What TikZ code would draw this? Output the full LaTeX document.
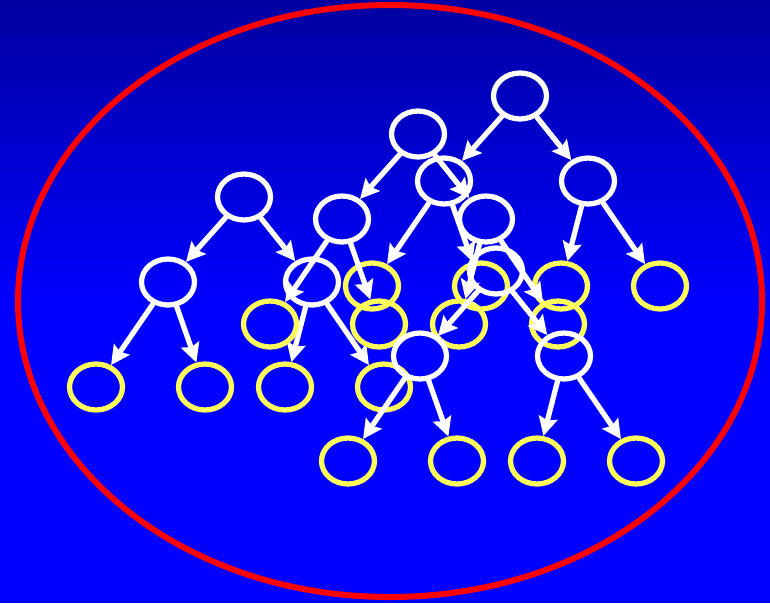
\documentclass[tikz,border=0pt]{standalone}
\usetikzlibrary{shapes.geometric,arrows.meta}
\definecolor{navy}{RGB}{0,0,160}
\definecolor{lemon}{RGB}{255,255,90}
\tikzset{
  knot/.style={ellipse, draw=white, line width=0.105cm, minimum width=1.06cm, minimum height=0.92cm, inner sep=0pt},
  leaf/.style={knot, draw=lemon},
  link/.style={draw=white, line width=0.105cm, -{Stealth[length=0.38cm, width=0.38cm, inset=0.06cm]}}
}
\begin{document}
\begin{tikzpicture}[x=0.02cm, y=-0.02cm, line cap=round, line join=round]
  \useasboundingbox (0,0) rectangle (770,603);
  % el fondo
  \shade[top color=navy, bottom color=blue] (0,0) rectangle (770,302);
  \fill[blue] (0,301) rectangle (770,603);
  \draw[red, line width=0.12cm] (390,301) ellipse (372 and 296);
  % los cuatro arboles
  \foreach \t/\x/\y in {1/244/197, 2/520/96, 3/418/134, 4/496/271} {
    \node[knot] (r\t) at (\x,\y) {};
    \node[knot] (a\t) at (\x-76,\y+85) {};
    \node[knot] (b\t) at (\x+68,\y+85) {};
    \node[leaf] (h\t1) at (\x-148,\y+190) {};
    \node[leaf] (h\t2) at (\x-39,\y+190) {};
    \node[leaf] (h\t3) at (\x+41,\y+190) {};
    \node[leaf] (h\t4) at (\x+140,\y+190) {};
    \draw[link] (r\t) -- (a\t);
    \draw[link] (r\t) -- (b\t);
    \draw[link] (a\t) -- (h\t1);
    \draw[link] (a\t) -- (h\t2);
    \draw[link] (b\t) -- (h\t3);
    \draw[link] (b\t) -- (h\t4);
  }
\end{tikzpicture}
\end{document}
